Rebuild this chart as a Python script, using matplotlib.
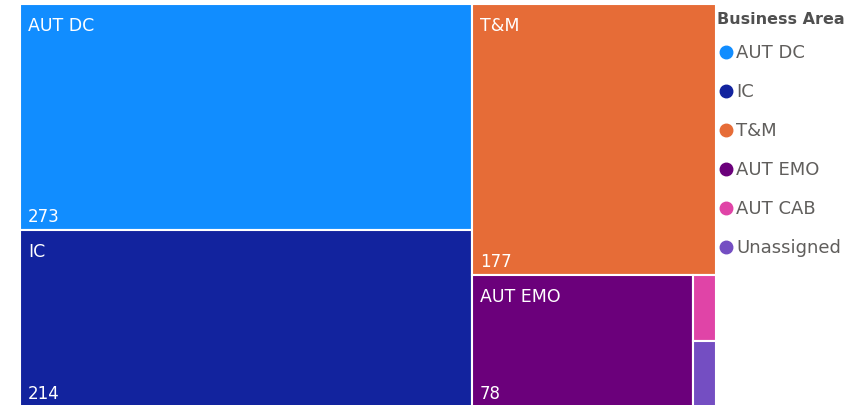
import matplotlib
matplotlib.use("Agg")
import matplotlib.pyplot as plt
from matplotlib.patches import Rectangle

plt.rcParams.update({
    "font.family": "sans-serif",
    "font.sans-serif": ["DejaVu Sans"],
})

CATEGORIES = ["AUT DC", "IC", "T&M", "AUT EMO", "AUT CAB", "Unassigned"]
VALUES = [273, 214, 177, 78, 4, 4]
COLORS = ["#118DFF", "#12239E", "#E66C37", "#6B007B", "#E044A7", "#744EC2"]
LEGEND_TITLE = "Business Area"

# how the tiles are nested: "cols" = side by side, "rows" = stacked
LAYOUT = ("cols", [("rows", [0, 1]),
                   ("rows", [2, ("cols", [3, ("rows", [4, 5])])])])

W, H = 861, 406
TEXT_GREY = "#605E5C"


def total(node):
    if isinstance(node, int):
        return VALUES[node]
    return sum(total(k) for k in node[1])


def place(node, x, y, w, h, out):
    if isinstance(node, int):
        out[node] = (x, y, w, h)
        return
    kind, kids = node
    s = total(node)
    for k in kids:
        frac = total(k) / s
        if kind == "cols":
            place(k, x, y, w * frac, h, out)
            x += w * frac
        else:
            place(k, x, y, w, h * frac, out)
            y += h * frac


def main():
    fig = plt.figure(figsize=(W / 100, H / 100), dpi=100)

    # treemap area in pixels (bottom edge runs just past the canvas)
    tx, ty, tw, th = 20, 5, 696, 403
    ax = fig.add_axes([tx / W, (H - ty - th) / H, tw / W, th / H])
    ax.set_xlim(0, tw)
    ax.set_ylim(th, 0)
    ax.axis("off")

    rects = {}
    place(LAYOUT, 0, 0, tw, th, rects)

    for i, (x, y, w, h) in rects.items():
        ax.add_patch(Rectangle((x, y), w, h, facecolor=COLORS[i],
                               edgecolor="white", linewidth=1.5))
        if w > 60 and h > 60:
            ax.text(x + 8, y + 21, CATEGORIES[i], color="white",
                    fontsize=12.5, ha="left", va="center")
            ax.text(x + 8, y + h - 14, str(VALUES[i]), color="white",
                    fontsize=12, ha="left", va="center")

    # legend drawn in pixel coordinates
    lg = fig.add_axes([0, 0, 1, 1], facecolor="none")
    lg.set_xlim(0, W)
    lg.set_ylim(H, 0)
    lg.axis("off")
    lg.text(717, 20, LEGEND_TITLE, fontsize=11.5, fontweight="bold",
            color="#505050", ha="left", va="center")
    for i, name in enumerate(CATEGORIES):
        yy = 53 + i * 39
        lg.plot([726], [yy], marker="o", markersize=9, color=COLORS[i],
                linestyle="none")
        lg.text(736, yy, name, fontsize=13, color=TEXT_GREY,
                ha="left", va="center")

    fig.savefig("out.png", dpi=100)
    plt.close(fig)


if __name__ == "__main__":
    main()
